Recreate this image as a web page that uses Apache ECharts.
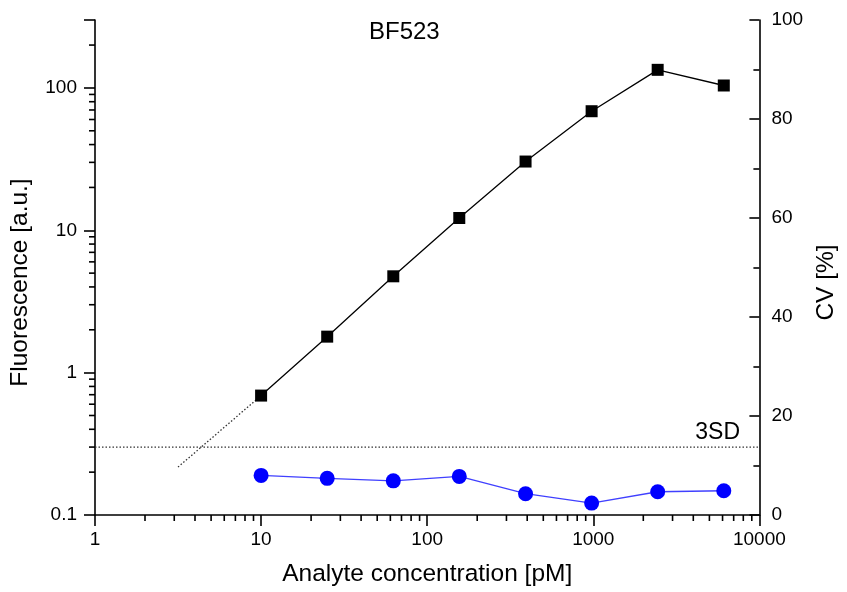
<!DOCTYPE html>
<html>
<head>
<meta charset="utf-8">
<script src="https://cdn.jsdelivr.net/npm/echarts@6/dist/echarts.min.js"></script>
<style>
  html, body { margin: 0; padding: 0; background: #fff; }
  #demo { width: 847px; height: 592px; }
</style>
</head>
<body>
<div id="demo"></div>
<script>
// analyte concentrations [pM], 2.5x dilution steps
var concX = [10, 25, 62.5, 156, 391, 977, 2441, 6104];
// fluorescence [a.u.] (left log axis)
var fluor = [0.69, 1.79, 4.75, 12.2, 30.4, 68.6, 134, 104];
// CV [%] (right axis)
var cv = [8.0, 7.4, 6.9, 7.8, 4.3, 2.4, 4.7, 4.9];
// 3SD background level and extrapolation of the calibration line
var threeSD = 0.3;
var extrapX = [3.16, 10];
var extrapY = [0.217, 0.69];
// axis ticks
var xTicks = [1, 10, 100, 1000, 10000];
var yTicks = [0.1, 1, 10, 100];
var xMinor = [2, 3, 4, 5, 6, 7, 8, 9, 20, 30, 40, 50, 60, 70, 80, 90,
              200, 300, 400, 500, 600, 700, 800, 900, 2000, 3000, 4000, 5000, 6000, 7000, 8000, 9000];
var yMinor = [0.2, 0.3, 0.4, 0.5, 0.6, 0.7, 0.8, 0.9, 2, 3, 4, 5, 6, 7, 8, 9,
              20, 30, 40, 50, 60, 70, 80, 90, 200];

var font = 'Liberation Sans, Arial, sans-serif';

function pick(list) {
    return function (v) {
        for (var i = 0; i < list.length; i++) {
            if (Math.abs(v - list[i]) < list[i] * 1e-6) return String(list[i]);
        }
        return '';
    };
}

var mychar = echarts.init(document.getElementById('demo'), null, { renderer: 'canvas' });

var option = {
    animation: false,
    backgroundColor: '#fff',
    textStyle: { fontFamily: font, color: '#000' },
    title: {
        text: 'BF523',
        left: 364,
        top: 15,
        textStyle: { fontFamily: font, fontSize: 24, fontWeight: 'normal', color: '#000' }
    },
    grid: { left: 95, right: 81, top: 20, bottom: 75 },
    xAxis: {
        type: 'log',
        min: 1,
        max: 10000,
        name: 'Analyte concentration [pM]',
        nameLocation: 'middle',
        nameGap: 47,
        nameTextStyle: { fontFamily: font, fontSize: 24.5, color: '#000' },
        axisLine: { lineStyle: { color: '#000', width: 1.6 } },
        axisTick: { length: 11, lineStyle: { color: '#000', width: 1.6 } },
        axisLabel: { fontFamily: font, fontSize: 19, color: '#000', margin: 15, formatter: pick(xTicks) },
        splitLine: { show: false }
    },
    yAxis: [{
        type: 'log',
        min: 0.1,
        max: 300,
        name: 'Fluorescence [a.u.]',
        nameLocation: 'middle',
        nameGap: 62,
        nameTextStyle: { fontFamily: font, fontSize: 24.5, color: '#000', padding: [0, 30, 0, 0] },
        axisLine: { onZero: false, lineStyle: { color: '#000', width: 1.6 } },
        axisTick: { length: 11, lineStyle: { color: '#000', width: 1.6 } },
        axisLabel: { fontFamily: font, fontSize: 19, color: '#000', margin: 18, formatter: pick(yTicks) },
        splitLine: { show: false }
    }, {
        type: 'value',
        position: 'right',
        min: 0,
        max: 100,
        interval: 20,
        name: 'CV [%]',
        nameLocation: 'middle',
        nameGap: 54,
        nameTextStyle: { fontFamily: font, fontSize: 24.5, color: '#000', padding: [0, 30, 0, 0] },
        axisLine: { show: true, lineStyle: { color: '#000', width: 1.6 } },
        axisTick: { inside: true, length: 10, lineStyle: { color: '#000', width: 1.6 } },
        minorTick: { show: true, splitNumber: 2, length: 6, lineStyle: { color: '#000', width: 1.6 } },
        axisLabel: { fontFamily: font, fontSize: 19, color: '#000', margin: 12 },
        splitLine: { show: false }
    }],
    graphic: [{
        type: 'text',
        z: 100,
        style: {
            x: 740, y: 444, text: '3SD', fill: '#000',
            font: '23px ' + font,
            align: 'right', verticalAlign: 'bottom'
        }
    }],
    series: [{
        // minor ticks of the log x axis
        type: 'custom',
        silent: true,
        clip: false,
        xAxisIndex: 0, yAxisIndex: 0,
        data: xMinor.map(function (v) { return [v, 0.1]; }),
        renderItem: function (params, api) {
            var p = api.coord([api.value(0), 0.1]);
            return { type: 'line', shape: { x1: p[0], y1: p[1], x2: p[0], y2: p[1] + 6 },
                     style: { stroke: '#000', lineWidth: 1.6 } };
        }
    }, {
        // minor ticks of the log y axis
        type: 'custom',
        silent: true,
        clip: false,
        xAxisIndex: 0, yAxisIndex: 0,
        data: yMinor.map(function (v) { return [1, v]; }),
        renderItem: function (params, api) {
            var p = api.coord([1, api.value(1)]);
            return { type: 'line', shape: { x1: p[0], y1: p[1], x2: p[0] - 6, y2: p[1] },
                     style: { stroke: '#000', lineWidth: 1.6 } };
        }
    }, {
        name: '3SD',
        type: 'line',
        silent: true,
        symbol: 'none',
        data: [[xTicks[0], threeSD], [xTicks[xTicks.length - 1], threeSD]],
        lineStyle: { color: '#333', width: 1.3, type: [1.5, 2] }
    }, {
        name: 'extrapolation',
        type: 'line',
        silent: true,
        symbol: 'none',
        data: extrapX.map(function (x, i) { return [x, extrapY[i]]; }),
        lineStyle: { color: '#333', width: 1.3, type: [1.5, 2] }
    }, {
        name: 'Fluorescence',
        type: 'line',
        symbol: 'rect',
        symbolSize: 12,
        data: concX.map(function (x, i) { return [x, fluor[i]]; }),
        itemStyle: { color: '#000' },
        lineStyle: { color: '#000', width: 1.3 },
        z: 5
    }, {
        name: 'CV',
        type: 'line',
        yAxisIndex: 1,
        symbol: 'circle',
        symbolSize: 15,
        data: concX.map(function (x, i) { return [x, cv[i]]; }),
        itemStyle: { color: '#0000ff' },
        lineStyle: { color: '#4040ff', width: 1.3 },
        z: 4
    }]
};
mychar.setOption(option);
</script>
</body>
</html>
